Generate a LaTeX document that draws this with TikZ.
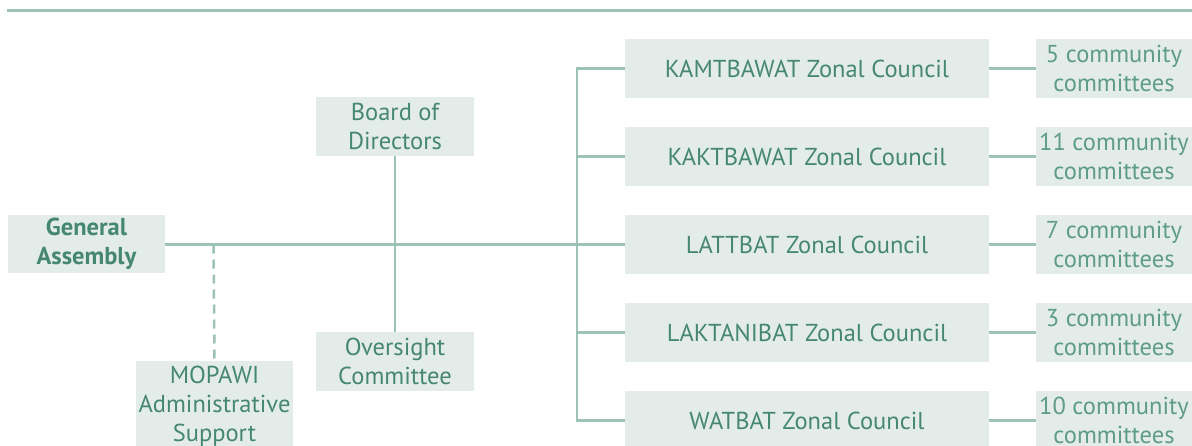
\documentclass[tikz,border=0pt]{standalone}
\usepackage{fontspec}
\setmainfont{PT Sans}
\definecolor{txtgreen}{HTML}{45876F}
\definecolor{commgreen}{HTML}{5E9C86}
\definecolor{boxfill}{HTML}{E4ECE9}
\definecolor{linegreen}{HTML}{9CC3B3}
\tikzset{
  orgbox/.style={fill=boxfill, inner sep=0pt, align=center, text=txtgreen,
    font=\fontsize{24.5}{29}\selectfont},
  zonebox/.style={orgbox, minimum width=364pt, minimum height=59pt},
  commbox/.style={orgbox, text=commgreen, minimum width=156pt, minimum height=59pt},
  link/.style={draw=linegreen, line width=2.5pt}
}
\begin{document}
\begin{tikzpicture}[x=1pt,y=-1pt]
\useasboundingbox (0,0) rectangle (1192,445);
\clip (0,0) rectangle (1192,445);
% rule along the top
\coordinate (ruleL) at (7,10);
\coordinate (ruleR) at (1192,10);
\draw[linegreen, line width=3pt] (ruleL) -- (ruleR);

% left side of the chart
\node[orgbox, minimum width=157pt, minimum height=58pt, font=\bfseries\fontsize{24.5}{29}\selectfont]
  (ga) at (86.5,244) {General\\Assembly};
\node[orgbox, minimum width=158pt, minimum height=59pt] (board) at (395,126.5) {Board of\\Directors};
\node[orgbox, minimum width=158pt, minimum height=59pt] (over) at (395,361.5) {Oversight\\Committee};
\node[orgbox, minimum width=157pt, minimum height=90pt] (mopawi) at (214.5,406) {MOPAWI\\Administrative\\Support};

% zonal councils
\node[zonebox] (z1) at (807,68.5) {KAMTBAWAT Zonal Council};
\node[zonebox] (z2) at (807,156.5) {KAKTBAWAT Zonal Council};
\node[zonebox] (z3) at (807,244.5) {LATTBAT Zonal Council};
\node[zonebox] (z4) at (807,332.5) {LAKTANIBAT Zonal Council};
\node[zonebox] (z5) at (807,420.5) {WATBAT Zonal Council};

% community committees
\node[commbox] (c1) at (1114,68.5) {5 community\\committees};
\node[commbox] (c2) at (1114,156.5) {11 community\\committees};
\node[commbox] (c3) at (1114,244.5) {7 community\\committees};
\node[commbox] (c4) at (1114,332.5) {3 community\\committees};
\node[commbox] (c5) at (1114,420.5) {10 community\\committees};

% connectors
\coordinate (bus) at (577,244.5);
\coordinate (dash) at (213.5,244.5);
\draw[link] (ga.east |- bus) -- (bus);
\draw[link] (board) -- (over);
\draw[link, dashed, dash pattern=on 9pt off 6pt] (dash) -- (mopawi.north);
\draw[link, line cap=rect] (bus |- z1.west) -- (bus |- z5.west);
\foreach \i in {1,...,5} {
  \draw[link] (bus |- z\i.west) -- (z\i.west);
  \draw[link] (z\i.east) -- (c\i.west);
}
\end{tikzpicture}
\end{document}
